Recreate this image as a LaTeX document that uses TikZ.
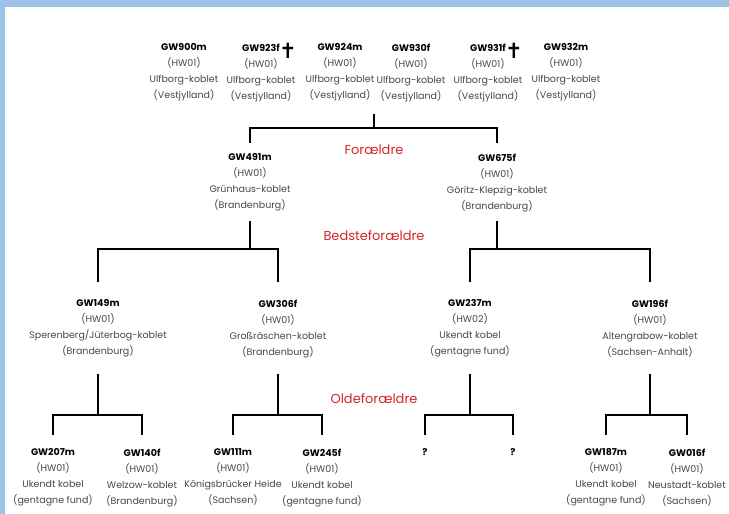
\documentclass[tikz,border=0pt]{standalone}
\usepackage{fontspec}
\setmainfont{Poppins}
\newfontfamily\symfont{DejaVu Sans}
\usetikzlibrary{positioning,calc}
\definecolor{bandblue}{RGB}{157,195,230}
\definecolor{txtgray}{RGB}{72,72,72}
\definecolor{genred}{RGB}{214,36,40}
\begin{document}
\begin{tikzpicture}[x=1pt,y=-1pt,
  dog/.style={align=center,inner sep=0pt,anchor=north,text=txtgray,
    font=\fontsize{9.5}{16}\selectfont},
  gen/.style={text=genred,inner sep=0pt,font=\fontsize{13}{15}\selectfont},
  tree/.style={line width=2.4pt},
  cross/.style={inner sep=0pt,font=\symfont\bfseries\fontsize{21}{21}\selectfont}]
  \useasboundingbox (0,0) rectangle (729,514);
  \fill[white] (0,0) rectangle (729,514);
  \fill[bandblue] (0,0) rectangle (729,7);
  \fill[bandblue] (0,0) rectangle (5,514);

  \node[dog] (GW900m) at (184,43.5) {\textcolor{black}{\textbf{GW900m}}\\(HW01)\\Ulfborg-koblet\\(Vestjylland)};
  \node[dog] (GW923f) at (261,43.5) {\textcolor{black}{\textbf{GW923f}}\\(HW01)\\Ulfborg-koblet\\(Vestjylland)};
  \node[dog] (GW924m) at (340,43.5) {\textcolor{black}{\textbf{GW924m}}\\(HW01)\\Ulfborg-koblet\\(Vestjylland)};
  \node[dog] (GW930f) at (411,43.5) {\textcolor{black}{\textbf{GW930f}}\\(HW01)\\Ulfborg-koblet\\(Vestjylland)};
  \node[dog] (GW931f) at (488,43.5) {\textcolor{black}{\textbf{GW931f}}\\(HW01)\\Ulfborg-koblet\\(Vestjylland)};
  \node[dog] (GW932m) at (566,43.5) {\textcolor{black}{\textbf{GW932m}}\\(HW01)\\Ulfborg-koblet\\(Vestjylland)};
  \node[cross] (dead923) at (288,51) {✝};
  \node[cross] (dead931) at (514,51) {✝};

  \node[dog] (GW491m) at (250,153.5) {\textcolor{black}{\textbf{GW491m}}\\(HW01)\\Grünhaus-koblet\\(Brandenburg)};
  \node[dog] (GW675f) at (497,153.5) {\textcolor{black}{\textbf{GW675f}}\\(HW01)\\Göritz-Klepzig-koblet\\(Brandenburg)};

  \node[dog] (GW149m) at (98,299.5) {\textcolor{black}{\textbf{GW149m}}\\(HW01)\\Sperenberg/Jüterbog-koblet\\(Brandenburg)};
  \node[dog] (GW306f) at (278,299.5) {\textcolor{black}{\textbf{GW306f}}\\(HW01)\\Großräschen-koblet\\(Brandenburg)};
  \node[dog] (GW237m) at (470,299.5) {\textcolor{black}{\textbf{GW237m}}\\(HW02)\\Ukendt kobel\\(gentagne fund)};
  \node[dog] (GW196f) at (650,299.5) {\textcolor{black}{\textbf{GW196f}}\\(HW01)\\Altengrabow-koblet\\(Sachsen-Anhalt)};

  \node[dog] (GW207m) at (53,448.5) {\textcolor{black}{\textbf{GW207m}}\\(HW01)\\Ukendt kobel\\(gentagne fund)};
  \node[dog] (GW140f) at (142,448.5) {\textcolor{black}{\textbf{GW140f}}\\(HW01)\\Welzow-koblet\\(Brandenburg)};
  \node[dog] (GW111m) at (233,448.5) {\textcolor{black}{\textbf{GW111m}}\\(HW01)\\Königsbrücker Heide\\(Sachsen)};
  \node[dog] (GW245f) at (322,448.5) {\textcolor{black}{\textbf{GW245f}}\\(HW01)\\Ukendt kobel\\(gentagne fund)};
  \node[dog] (unk1) at (425,448.5) {\textcolor{black}{\textbf{?}}};
  \node[dog] (unk2) at (513,448.5) {\textcolor{black}{\textbf{?}}};
  \node[dog] (GW187m) at (606,448.5) {\textcolor{black}{\textbf{GW187m}}\\(HW01)\\Ukendt kobel\\(gentagne fund)};
  \node[dog] (GW016f) at (687,448.5) {\textcolor{black}{\textbf{GW016f}}\\(HW01)\\Neustadt-koblet\\(Sachsen)};

  \node[gen] (foraeldre) at (374,150) {Forældre};
  \node[gen] (bedste) at (374,236) {Bedsteforældre};
  \node[gen] (olde) at (374,399) {Oldeforældre};

  \coordinate (litter) at (374,114);
  \coordinate (j0) at (374,128);
  \coordinate (j491) at (250,249);
  \coordinate (j675) at (497,249);
  \coordinate (j149) at (98,415);
  \coordinate (j306) at (278,415);
  \coordinate (j237) at (470,415);
  \coordinate (j196) at (650,415);

  \draw[tree] (litter) -- (j0);
  \draw[tree,shorten <=10.5pt,shorten >=10.5pt] (GW491m.north) |- (j0) -| (GW675f.north);

  \draw[tree,shorten <=9.5pt] (GW491m.south) -- (j491);
  \draw[tree,shorten <=9.5pt] (GW675f.south) -- (j675);
  \draw[tree,shorten <=17.5pt,shorten >=17.5pt] (GW149m.north) |- (j491) -| (GW306f.north);
  \draw[tree,shorten <=17.5pt,shorten >=17.5pt] (GW237m.north) |- (j675) -| (GW196f.north);

  \draw[tree,shorten <=16.5pt] (GW149m.south) -- (j149);
  \draw[tree,shorten <=16.5pt] (GW306f.south) -- (j306);
  \draw[tree,shorten <=16.5pt] (GW237m.south) -- (j237);
  \draw[tree,shorten <=16.5pt] (GW196f.south) -- (j196);
  \draw[tree,shorten <=13.5pt,shorten >=13.5pt] (GW207m.north) |- (j149) -| (GW140f.north);
  \draw[tree,shorten <=13.5pt,shorten >=13.5pt] (GW111m.north) |- (j306) -| (GW245f.north);
  \draw[tree,shorten <=13.5pt,shorten >=13.5pt] (unk1.north) |- (j237) -| (unk2.north);
  \draw[tree,shorten <=13.5pt,shorten >=13.5pt] (GW187m.north) |- (j196) -| (GW016f.north);
\end{tikzpicture}
\end{document}
